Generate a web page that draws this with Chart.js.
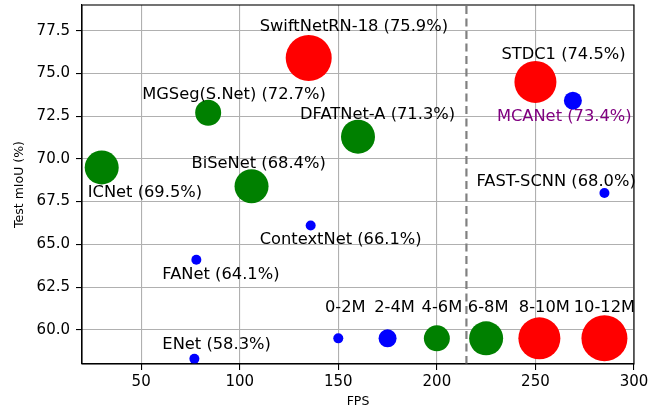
<!DOCTYPE html>
<html>
<head>
<meta charset="utf-8">
<script src="https://cdn.jsdelivr.net/npm/chart.js@4.4.0/dist/chart.umd.min.js"></script>
<style>
  html, body { margin: 0; padding: 0; background: #fff; }
  #wrap { width: 665px; height: 409px; }
</style>
</head>
<body>
<div id="wrap"><canvas id="fps-chart" width="665" height="409"></canvas></div>
<script>
// ---- data ----
const modelNames = ['SwiftNetRN-18', 'STDC1', 'MCANet', 'DFATNet-A', 'FAST-SCNN', 'MGSeg(S.Net)',
                    'ICNet', 'BiSeNet', 'ContextNet', 'FANet', 'ENet'];
const modelFps   = [135, 250, 269, 160, 285, 84, 30, 106, 136, 78, 77];
const modelMiou  = [75.9, 74.5, 73.4, 71.3, 68.0, 72.7, 69.5, 68.4, 66.1, 64.1, 58.3];
const modelSize  = [5, 4, 1, 3, 0, 2, 3, 3, 0, 0, 0];   // index into sizeLabels

const sizeLabels = ['0-2M', '2-4M', '4-6M', '6-8M', '8-10M', '10-12M'];
const sizeFps    = [150, 175, 200, 225, 252, 285];
const sizeMiou   = [59.5, 59.5, 59.5, 59.5, 59.5, 59.5];

const xTicks = [50, 100, 150, 200, 250, 300];
const yTicks = [60, 62.5, 65, 67.5, 70, 72.5, 75, 77.5];
const splitFps = 215;

// ---- styling ----
const sizeRadius = [5, 9, 13, 17, 21, 23];
const sizeColor  = ['#0000ff', '#0000ff', '#008000', '#008000', '#ff0000', '#ff0000'];
// text placement: px offset from point centre to text left edge / middle
const modelLabelOffset = [[-49, -31], [-34, -27], [-76, 16], [-58, -22], [-128, -11], [-66, -18],
                          [-14, 25], [-60, -22], [-51, 14], [-34, 15], [-32, -14]];
const modelLabelColor = ['#000', '#000', '#800080', '#000', '#000', '#000', '#000', '#000', '#000', '#000', '#000'];
const sizeLabelOffset = [[7, -31], [7, -31], [5, -31], [2, -31], [5, -31], [0, -31]];

const FONT = 'DejaVu Sans';

const annotations = {
    id: 'annotations',
    beforeDatasetsDraw(chart) {
        const { ctx, chartArea, scales } = chart;
        const x = scales.x.getPixelForValue(splitFps);
        ctx.save();
        ctx.strokeStyle = '#808080';
        ctx.lineWidth = 2.2;
        ctx.setLineDash([8, 4.5]);
        ctx.beginPath();
        ctx.moveTo(x, chartArea.bottom);
        ctx.lineTo(x, chartArea.top);
        ctx.stroke();
        ctx.restore();
    },
    afterDatasetsDraw(chart) {
        const { ctx, chartArea, scales } = chart;
        ctx.save();
        ctx.font = '16.3px "' + FONT + '"';
        ctx.textBaseline = 'middle';
        ctx.textAlign = 'left';
        modelNames.forEach((n, i) => {
            const px = scales.x.getPixelForValue(modelFps[i]);
            const py = scales.y.getPixelForValue(modelMiou[i]);
            ctx.fillStyle = modelLabelColor[i];
            ctx.fillText(`${n} (${modelMiou[i].toFixed(1)}%)`, px + modelLabelOffset[i][0], py + modelLabelOffset[i][1]);
        });
        ctx.textAlign = 'center';
        ctx.fillStyle = '#000';
        sizeLabels.forEach((s, i) => {
            const px = scales.x.getPixelForValue(sizeFps[i]);
            const py = scales.y.getPixelForValue(sizeMiou[i]);
            ctx.fillText(s, px + sizeLabelOffset[i][0], py + sizeLabelOffset[i][1]);
        });
        // frame on all four sides
        ctx.strokeStyle = '#000';
        ctx.lineWidth = 1.1;
        ctx.strokeRect(chartArea.left, chartArea.top, chartArea.right - chartArea.left, chartArea.bottom - chartArea.top);
        ctx.restore();
    }
};

const axisCommon = {
    type: 'linear',
    grid: { color: '#b0b0b0', lineWidth: 1.1, tickColor: '#000', tickLength: 6, tickWidth: 1.1 },
    border: { color: '#000', width: 1.1 },
};

new Chart(document.getElementById('fps-chart'), {
    type: 'bubble',
    data: {
        datasets: [
            {
                data: modelNames.map((n, i) => ({ x: modelFps[i], y: modelMiou[i], r: sizeRadius[modelSize[i]] })),
                backgroundColor: modelSize.map(s => sizeColor[s]),
                borderWidth: 0, hoverRadius: 0
            },
            {
                data: sizeLabels.map((s, i) => ({ x: sizeFps[i], y: sizeMiou[i], r: sizeRadius[i] })),
                backgroundColor: sizeColor,
                borderWidth: 0, hoverRadius: 0
            }
        ]
    },
    options: {
        responsive: false, animation: false, events: [],
        layout: { autoPadding: false, padding: { top: 5, right: 31, left: 0, bottom: 0 } },
        plugins: { legend: { display: false }, tooltip: { enabled: false } },
        scales: {
            x: {
                ...axisCommon, min: 20, max: 300,
                afterBuildTicks: s => { s.ticks = xTicks.map(v => ({ value: v })); },
                afterFit: s => { s.height = 45; s.paddingLeft = 0; s.paddingRight = 0; },
                ticks: { color: '#000', font: { family: FONT, size: 15 }, padding: 3, maxRotation: 0 },
                title: { display: true, text: 'FPS', color: '#000', font: { family: FONT, size: 12.5 }, padding: 0 }
            },
            y: {
                ...axisCommon, min: 58, max: 79,
                afterBuildTicks: s => { s.ticks = yTicks.map(v => ({ value: v })); },
                afterFit: s => { s.width = 82; s.paddingTop = 0; s.paddingBottom = 0; },
                ticks: { color: '#000', font: { family: FONT, size: 15 }, padding: 6, callback: v => v.toFixed(1) },
                title: { display: true, text: 'Test mIoU (%)', color: '#000', font: { family: FONT, size: 12.5 }, padding: { top: 12, bottom: 0 } }
            }
        }
    },
    plugins: [annotations]
});
</script>
</body>
</html>
